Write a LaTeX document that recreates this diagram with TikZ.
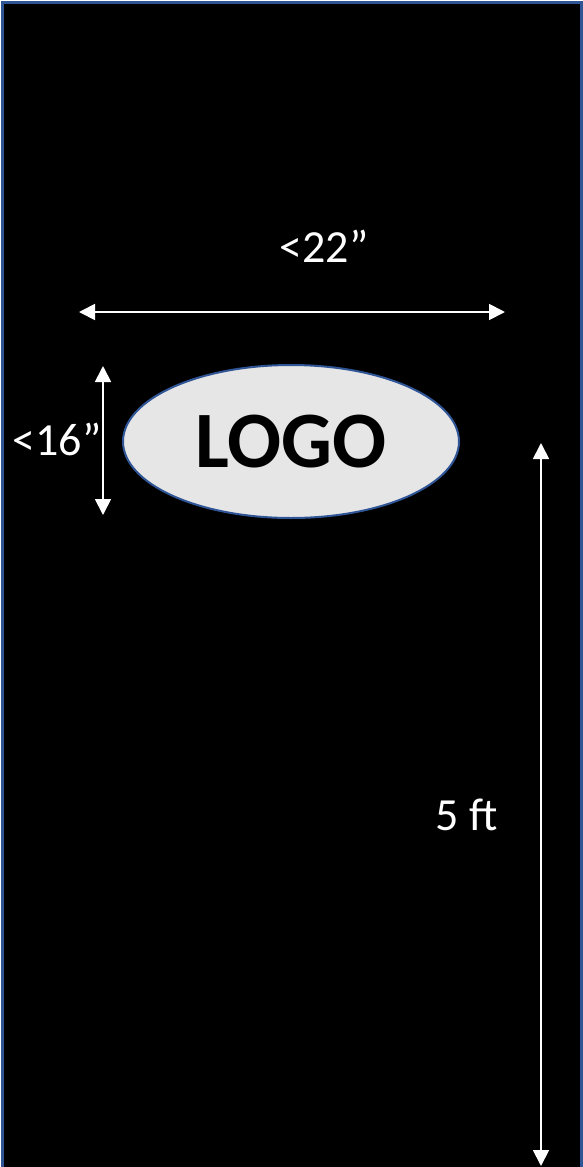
\documentclass[tikz,border=0pt]{standalone}
\usepackage{fontspec}
\setmainfont{Carlito}
\usetikzlibrary{arrows.meta,shapes.geometric}

\definecolor{frameblue}{HTML}{2F5597}
\definecolor{logogrey}{HTML}{E6E6E6}

\tikzset{
  measure/.style={white, line width=1.8pt,
    {Triangle[length=16pt,width=16pt]}-{Triangle[length=16pt,width=16pt]}},
  dimtext/.style={white, inner sep=0pt, anchor=base,
    font=\fontsize{46}{52}\selectfont},
}

\begin{document}
\begin{tikzpicture}[x=1pt,y=-1pt]

\useasboundingbox (0,0) rectangle (583,1167);

\coordinate(upperleft) at (2.5,2.5);
\coordinate(lowerright) at (581.5,1168);

\draw[frameblue, line width=2.5pt, fill=black]
  (upperleft) rectangle (lowerright);

% logo
\node[ellipse, draw=frameblue, fill=logogrey, line width=2pt,
  minimum width=336pt, minimum height=153pt, inner sep=0pt,
  font=\bfseries\fontsize{80}{90}\selectfont]
  (logo) at (291,441.5) {LOGO};

% width
\coordinate(widthleft) at (79,312);
\coordinate(widthright) at (505,312);
\draw[measure] (widthleft) to (widthright);
\node[dimtext] (widthtext) at (324,262) {<22”};

% height of logo
\coordinate(logotop) at (103,366);
\coordinate(logobottom) at (103,515);
\draw[measure] (logotop) to (logobottom);
\node[dimtext] (logotext) at (57,455) {<16”};

% height above floor
\coordinate(walltop) at (541,443);
\coordinate(wallbottom) at (541,1166);
\draw[measure] (walltop) to (wallbottom);
\node[dimtext] (walltext) at (467,830) {5 ft};

\end{tikzpicture}
\end{document}
